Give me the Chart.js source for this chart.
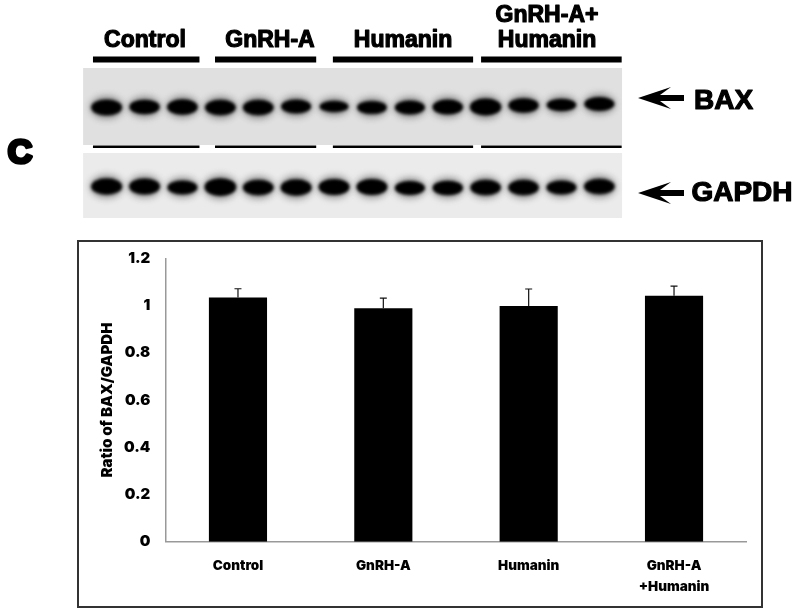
<!DOCTYPE html>
<html>
<head>
<meta charset="utf-8">
<script src="https://cdn.jsdelivr.net/npm/chart.js@4"></script>
<style>
  html, body { margin: 0; padding: 0; background: #fff; }
  canvas { position: absolute; }
  #blot { left: 0; top: 0; }
  #ratio { left: 0; top: 232px; }
  #frame { position: absolute; left: 77px; top: 240px; width: 682px; height: 364px; border: 2px solid #333; }
</style>
</head>
<body>
<div id="frame"></div>
<canvas id="blot" width="800" height="232"></canvas>
<canvas id="ratio" width="800" height="383"></canvas>
<script>
// bar chart values
const categories = ["Control", "GnRH-A", "Humanin", ["GnRH-A", "+Humanin"]];
const ratios = [1.034, 0.989, 0.998, 1.041];
const errors = [0.037, 0.042, 0.072, 0.041];
const yTicks = ["0", "0.2", "0.4", "0.6", "0.8", "1", "1.2"];

// blot values, one entry per lane
const lanes = [1, 2, 3, 4, 5, 6, 7, 8, 9, 10, 11, 12, 13, 14];
const baxY = [107.5, 107, 107, 107.5, 107.5, 106.5, 106.5, 107.5, 107.5, 107, 107, 105.5, 105, 104];
const baxDensity = [1, 0.8, 0.9, 0.95, 0.95, 0.7, 0.35, 0.6, 0.7, 0.85, 1.15, 0.8, 0.5, 0.7];
const gapdhY = [186.5, 186.5, 187.5, 187, 187.5, 187.5, 187, 187, 188, 188, 187.5, 187.5, 187.5, 186.5];
const gapdhDensity = [1.05, 1, 0.7, 1.25, 0.95, 1.05, 1, 1, 0.7, 0.8, 0.9, 0.9, 0.7, 0.95];

// treatment groups on the blot, as lane ranges
const groupNames = [["Control"], ["GnRH-A"], ["Humanin"], ["GnRH-A+", "Humanin"]];
const groupStart = [0.64, 3.86, 6.97, 10.88];
const groupEnd = [3.45, 6.53, 10.67, 14.59];

const heavyFont = "Inter";
const blotFont = '"Liberation Sans"';

// soft dark ellipse used as the point style for one band
function bandImage(density) {
  const w = 29 + density * 3;
  const h = 10 + density * 7;
  const c = document.createElement("canvas");
  c.width = 60;
  c.height = 48;
  const g = c.getContext("2d");
  g.filter = "blur(3.5px)";
  g.fillStyle = "rgba(60,60,60,0.55)";
  g.beginPath();
  g.ellipse(30, 24, w / 2, h / 2 + 2.5, 0, 0, Math.PI * 2);
  g.fill();
  g.filter = "blur(1.5px)";
  g.fillStyle = "#000";
  g.beginPath();
  g.ellipse(30, 24, w / 2 - 0.5, h / 2 - 0.5, 0, 0, Math.PI * 2);
  g.fill();
  return c;
}

function bandPoints(ys) {
  return lanes.map((lane, i) => ({ x: lane, y: ys[i] }));
}

function groupLine(y, width) {
  return groupStart.map((start, i) => ({
    type: "line",
    data: [{ x: start, y: y }, { x: groupEnd[i], y: y }],
    borderColor: "#000",
    borderWidth: width,
    pointRadius: 0,
    order: 0,
  }));
}

// gel background, arrows and texts of the blot
const blotDecor = {
  id: "blotDecor",
  beforeDatasetsDraw(chart) {
    const { ctx, scales } = chart;
    ctx.save();
    [[68, 145, "#e0e0e0"], [153, 218, "#ebebeb"]].forEach(([top, bottom, color]) => {
      const left = scales.x.getPixelForValue(0.38);
      const right = scales.x.getPixelForValue(14.6);
      ctx.fillStyle = color;
      ctx.fillRect(left, scales.y.getPixelForValue(top), right - left, bottom - top);
    });
    ctx.restore();
  },
  afterDatasetsDraw(chart) {
    const { ctx } = chart;
    ctx.save();
    ctx.fillStyle = "#000";
    ctx.strokeStyle = "#000";
    ctx.textAlign = "center";
    ctx.textBaseline = "middle";
    ctx.lineWidth = 1.2;
    ctx.lineJoin = "round";

    function label(text, x, y, font) {
      ctx.font = font;
      ctx.strokeText(text, x, y);
      ctx.fillText(text, x, y);
    }

    const centers = [145, 270, 403, 547];
    groupNames.forEach((lines, i) => {
      if (lines.length === 1) {
        label(lines[0], centers[i], 41, "bold 23px " + blotFont);
      } else {
        label(lines[0], centers[i], 16, "bold 23px " + blotFont);
        label(lines[1], centers[i], 41, "bold 23px " + blotFont);
      }
    });
    label("BAX", 723.5, 101, "bold 28px " + blotFont);
    label("GAPDH", 742, 193.5, "bold 28px " + blotFont);
    ctx.lineWidth = 3.5;
    label("C", 20, 154, "bold 34px " + blotFont);

    [98, 193].forEach((y) => {
      ctx.beginPath();
      ctx.moveTo(638, y);
      ctx.lineTo(671, y - 11);
      ctx.lineTo(660, y - 3);
      ctx.lineTo(684, y - 3);
      ctx.lineTo(684, y + 3);
      ctx.lineTo(660, y + 3);
      ctx.lineTo(671, y + 11);
      ctx.closePath();
      ctx.fill();
    });
    ctx.restore();
  },
};

new Chart(document.getElementById("blot"), {
  type: "scatter",
  data: {
    datasets: [
      { data: bandPoints(baxY), pointStyle: baxDensity.map(bandImage), pointRadius: 5, order: 1 },
      { data: bandPoints(gapdhY), pointStyle: gapdhDensity.map(bandImage), pointRadius: 5, order: 1 },
      ...groupLine(59.5, 6),
      ...groupLine(146.7, 2.5),
    ],
  },
  options: {
    responsive: false,
    animation: false,
    events: [],
    layout: { padding: 0, autoPadding: false },
    plugins: { legend: { display: false }, tooltip: { enabled: false } },
    scales: {
      x: { type: "linear", display: false, min: -1.813, max: 19.295 },
      y: { type: "linear", display: false, min: 0, max: 232, reverse: true },
    },
  },
  plugins: [blotDecor],
});

// error bars, upper side only
const errorBars = {
  id: "errorBars",
  afterDatasetsDraw(chart) {
    const { ctx, scales } = chart;
    ctx.save();
    ctx.strokeStyle = "#111";
    ctx.lineWidth = 1.2;
    ratios.forEach((value, i) => {
      const x = scales.x.getPixelForValue(i);
      const top = scales.y.getPixelForValue(value + errors[i]);
      ctx.beginPath();
      ctx.moveTo(x, scales.y.getPixelForValue(value));
      ctx.lineTo(x, top);
      ctx.moveTo(x - 3.5, top);
      ctx.lineTo(x + 3.5, top);
      ctx.stroke();
    });
    ctx.restore();
  },
};

new Chart(document.getElementById("ratio"), {
  type: "bar",
  data: {
    labels: categories,
    datasets: [
      {
        data: ratios,
        backgroundColor: "#000",
        borderWidth: 0,
        categoryPercentage: 1,
        barPercentage: 0.4,
      },
    ],
  },
  options: {
    responsive: false,
    animation: false,
    events: [],
    layout: { padding: { left: 98, right: 53.3, top: 26.3, bottom: 0 }, autoPadding: false },
    plugins: { legend: { display: false }, tooltip: { enabled: false } },
    scales: {
      x: {
        grid: { display: false, drawTicks: false },
        border: { display: true, color: "#999", width: 1.5 },
        ticks: {
          color: "#000",
          padding: 13,
          maxRotation: 0,
          font: { family: heavyFont, size: 13.5, weight: "900", lineHeight: 1.6 },
        },
        afterFit(scale) {
          scale.height = 73.3;
        },
      },
      y: {
        min: 0,
        max: 1.2,
        grid: { display: false, drawTicks: false },
        border: { display: true, color: "#999", width: 1.5 },
        ticks: {
          color: "#000",
          padding: 15,
          stepSize: 0.2,
          font: { family: heavyFont, size: 15, weight: "900" },
          callback: (value, index) => yTicks[index],
        },
        title: {
          display: true,
          text: "Ratio of BAX/GAPDH",
          color: "#000",
          padding: 0,
          font: { family: heavyFont, size: 15, weight: "900" },
        },
        afterFit(scale) {
          scale.width = 67.3;
        },
      },
    },
  },
  plugins: [errorBars],
});
</script>
</body>
</html>
